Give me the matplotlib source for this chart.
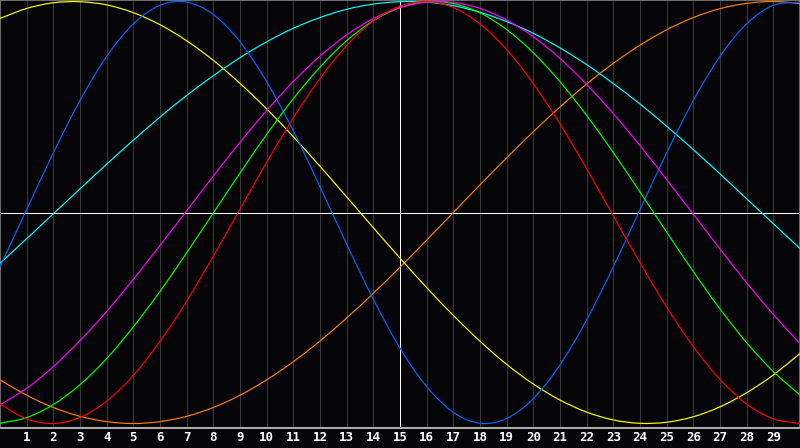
import matplotlib
matplotlib.use("Agg")
import matplotlib.pyplot as plt
from matplotlib.path import Path
from matplotlib.patches import PathPatch

# Biorhythm-style values (percent) read at each day 0..30
days = list(range(0, 31))
tick_days = list(range(1, 30))
tick_labels = [str(d) for d in tick_days]

blue = [-25.6, 1.4, 28.3, 53.1, 74.0, 89.4, 98.2, 99.7, 93.8, 80.9, 62.0, 38.7, 12.2,
        -15.0, -41.1, -64.3, -82.5, -94.7, -99.9, -97.6, -88.2, -72.2, -50.8, -25.7,
        1.4, 28.3, 53.1, 74.0, 89.4, 98.2, 99.7]
yellow = [92.0, 96.7, 99.4, 99.9, 98.4, 94.7, 89.0, 81.4, 72.1, 61.2, 49.1, 35.9, 21.9,
          7.4, -7.2, -21.6, -35.6, -48.8, -61.0, -72.0, -81.3, -88.9, -94.6, -98.3,
          -99.9, -99.4, -96.8, -92.1, -85.4, -77.0, -66.8]
orange = [-79.3, -86.6, -92.4, -96.6, -99.1, -100.0, -99.1, -96.6, -92.4, -86.6, -79.3,
          -70.7, -60.9, -50.0, -38.3, -25.9, -13.1, 0.0, 13.1, 25.9, 38.3, 50.0, 60.9,
          70.7, 79.3, 86.6, 92.4, 96.6, 99.1, 100.0, 99.1]
red = [-90.8, -97.8, -100.0, -97.1, -89.4, -77.2, -61.1, -42.0, -20.7, 1.6, 23.8, 44.8,
       63.5, 79.1, 90.8, 97.8, 100.0, 97.1, 89.4, 77.2, 61.1, 42.0, 20.7, -1.6, -23.8,
       -44.8, -63.5, -79.1, -90.8, -97.8, -100.0]
green = [-99.9, -97.2, -91.0, -81.6, -69.2, -54.2, -37.4, -19.1, -0.2, 18.7, 37.0, 53.9,
         68.9, 81.4, 90.9, 97.1, 99.9, 99.0, 94.6, 86.7, 75.7, 62.0, 46.0, 28.4, 9.7,
         -9.3, -28.0, -45.7, -61.7, -75.4, -86.5]
magenta = [-91.2, -83.3, -73.0, -60.7, -46.9, -31.7, -15.6, 0.8, 17.3, 33.3, 48.3, 62.1,
           74.1, 84.2, 91.9, 97.1, 99.7, 99.6, 96.7, 91.2, 83.3, 73.0, 60.7, 46.9, 31.7,
           15.6, -0.8, -17.3, -33.3, -48.3, -62.1]
cyan = [-24.1, -12.4, -0.6, 11.2, 22.9, 34.3, 45.2, 55.5, 64.8, 73.4, 80.9, 87.3, 92.4,
        96.3, 98.8, 99.9, 99.7, 98.0, 94.9, 90.5, 84.9, 78.0, 70.1, 61.1, 51.4, 40.9,
        29.8, 18.3, 6.5, -5.3, -17.1]

series = [
    (orange, "#ff8000"),
    (yellow, "#ffff00"),
    (cyan, "#00ffff"),
    (blue, "#0066ff"),
    (green, "#00ff00"),
    (magenta, "#ff00ff"),
    (red, "#ff0000"),
]


def smooth_path(xs, ys):
    """Smooth (Catmull-Rom style) Bezier path passing through the data points."""
    n = len(xs)
    verts = [(xs[0], ys[0])]
    codes = [Path.MOVETO]
    for i in range(n - 1):
        x0, y0 = (xs[i - 1], ys[i - 1]) if i > 0 else (2 * xs[0] - xs[1], 2 * ys[0] - ys[1])
        x1, y1 = xs[i], ys[i]
        x2, y2 = xs[i + 1], ys[i + 1]
        x3, y3 = (xs[i + 2], ys[i + 2]) if i + 2 < n else (2 * xs[-1] - xs[-2], 2 * ys[-1] - ys[-2])
        c1 = (x1 + (x2 - x0) / 6.0, y1 + (y2 - y0) / 6.0)
        c2 = (x2 - (x3 - x1) / 6.0, y2 - (y3 - y1) / 6.0)
        verts += [c1, c2, (x2, y2)]
        codes += [Path.CURVE4, Path.CURVE4, Path.CURVE4]
    return Path(verts, codes)


W, H = 800, 448
bg = "#050508"
fig = plt.figure(figsize=(W / 100, H / 100), dpi=100)
fig.patch.set_facecolor(bg)
ax = fig.add_axes([0, 20 / H, 1, 428 / H])
ax.set_facecolor(bg)
ax.set_xlim(0, 30)
ax.set_ylim(-102.13, 100.71)

for d in tick_days:
    if d != 15:
        ax.axvline(d, color="#383838", lw=0.72, zorder=1, antialiased=False)
ax.axvline(15, color="#ffffff", lw=0.72, zorder=2, antialiased=False)
ax.axhline(0, color="#ffffff", lw=0.72, zorder=2, antialiased=False)

for vals, col in series:
    patch = PathPatch(smooth_path(days, vals), facecolor="none", edgecolor=col,
                      lw=0.85, zorder=3)
    ax.add_patch(patch)

for side in ("left", "top", "right"):
    ax.spines[side].set_color("#808080")
    ax.spines[side].set_linewidth(1.2)
ax.spines["bottom"].set_color("#a8a8a8")
ax.spines["bottom"].set_linewidth(1.5)

ax.set_yticks([])
ax.set_xticks(tick_days)
ax.set_xticklabels(tick_labels, family=["DejaVu Sans Mono"], fontweight="bold",
                   fontsize=9, color="white")
ax.tick_params(axis="x", length=0, pad=2.5)

fig.savefig("out.png", dpi=100, facecolor=fig.get_facecolor())
